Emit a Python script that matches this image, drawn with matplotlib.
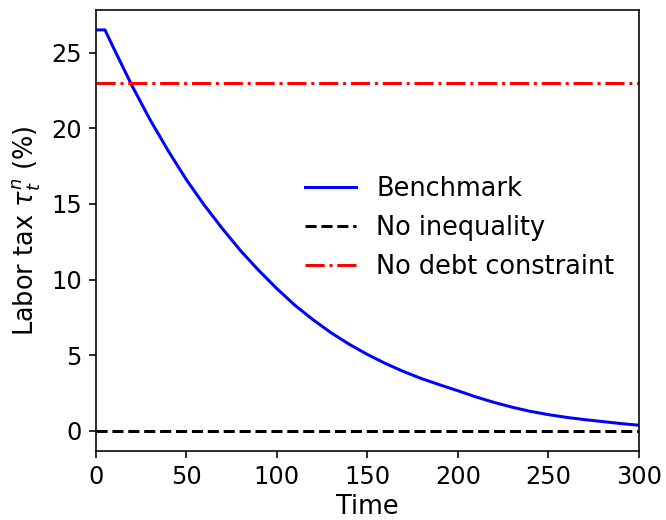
import matplotlib
matplotlib.use("Agg")
import matplotlib.pyplot as plt

plt.rcParams.update({"font.size": 12})

# benchmark labor tax path (%)
t = [0, 5, 10, 20, 30, 40, 50, 60, 70, 80, 90, 100, 110, 120, 130, 140, 150,
     160, 170, 180, 190, 200, 210, 220, 230, 240, 250, 260, 270, 280, 290, 300]
benchmark = [26.5, 26.5, 25.25, 22.8, 20.55, 18.5, 16.6, 14.9, 13.35, 11.9,
             10.6, 9.4, 8.3, 7.34, 6.48, 5.72, 5.05, 4.45, 3.92, 3.45, 3.04,
             2.65, 2.24, 1.88, 1.56, 1.29, 1.07, 0.89, 0.74, 0.61, 0.48, 0.37]
no_inequality = [0.0] * len(t)
no_debt_constraint = [23.0] * len(t)

fig = plt.figure(figsize=(666 / 144, 520 / 144), dpi=144)
ax = fig.add_axes([0.144, 0.133, 0.815, 0.848])
ax.plot(t, benchmark, color="blue", lw=1.5, label="Benchmark")
ax.plot(t, no_inequality, color="black", ls="--", lw=1.5, label="No inequality")
ax.plot(t, no_debt_constraint, color="red", ls="-.", lw=1.5, label="No debt constraint")
ax.set_xlim(0, 300)
ax.set_xlabel("Time", fontsize=12.8, labelpad=2.5)
ax.set_ylabel(r"Labor tax $\tau_t^n$ (%)", fontsize=12.8)
ax.legend(frameon=False, fontsize=12.8, loc="center", bbox_to_anchor=(0.67, 0.506))
fig.savefig("out.png")
